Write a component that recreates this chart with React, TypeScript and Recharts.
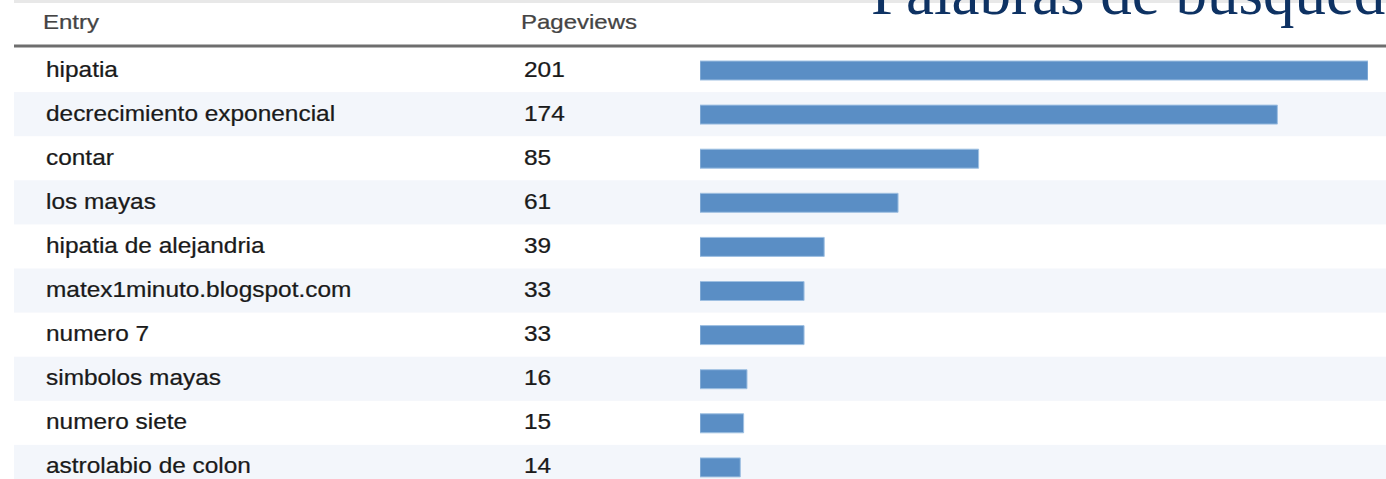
import React from 'react';
import { BarChart, Bar, XAxis, YAxis, ReferenceArea } from 'recharts';

const entries = [
  'hipatia',
  'decrecimiento exponencial',
  'contar',
  'los mayas',
  'hipatia de alejandria',
  'matex1minuto.blogspot.com',
  'numero 7',
  'simbolos mayas',
  'numero siete',
  'astrolabio de colon',
];
const pageviews = [201, 174, 85, 61, 39, 33, 33, 16, 15, 14];
const columnHeaders = ['Entry', 'Pageviews'];
const titleText = 'Palabras de búsqueda';
const shadedRows = entries.filter((_, i) => i % 2 === 1);

const data = entries.map((entry, i) => ({ entry, views: pageviews[i] }));

const FONT = '"Liberation Sans", Arial, Helvetica, sans-serif';

const StretchText = ({ x, y, children, fill = '#1a1a1a', size = 22, stretch = 1.11 }: any) => (
  <text
    transform={`translate(${x},${y}) scale(${stretch},1)`}
    x={0}
    y={0}
    fontFamily={FONT}
    fontSize={size}
    fill={fill}
    stroke={fill}
    strokeWidth={0.25}
  >
    {children}
  </text>
);

const RowTick = (props: any) => {
  const { y, payload } = props;
  const idx = entries.indexOf(payload.value);
  return (
    <g>
      <StretchText x={46} y={y + 6.5}>{payload.value}</StretchText>
      <StretchText x={524} y={y + 6.5}>{String(pageviews[idx])}</StretchText>
    </g>
  );
};

const RowShade = (props: any) => (
  <rect x={14} y={props.y} width={1372} height={props.height} fill="#f3f6fb" />
);

export default function App() {
  return (
    <div
      style={{
        position: 'fixed',
        left: 0,
        top: 0,
        width: 1386,
        height: 479,
        overflow: 'hidden',
        background: '#ffffff',
      }}
    >
      <BarChart
        width={1386}
        height={489}
        layout="vertical"
        data={data}
        margin={{ top: 48, right: 18, left: 0, bottom: 0 }}
      >
        <line x1={14} x2={1386} y1={1.5} y2={1.5} stroke="#e8e8e8" strokeWidth={3} />
        <text
          x={871}
          y={14}
          fontFamily='"Liberation Serif", "Times New Roman", serif'
          fontSize={63}
          fill="#0e3263"
        >
          {titleText}
        </text>
        <StretchText x={43} y={29} fill="#444444" size={20} stretch={1.2}>{columnHeaders[0]}</StretchText>
        <StretchText x={521} y={29} fill="#444444" size={20} stretch={1.2}>{columnHeaders[1]}</StretchText>
        <line x1={14} x2={1386} y1={46} y2={46} stroke="#6e6e6e" strokeWidth={3} />
        {shadedRows.map((r) => (
          <ReferenceArea
            key={r}
            y1={r}
            y2={r}
            ifOverflow="visible"
            shape={RowShade}
          />
        ))}
        <XAxis type="number" domain={[2, 201]} hide allowDataOverflow />
        <YAxis
          type="category"
          dataKey="entry"
          width={700}
          axisLine={false}
          tickLine={false}
          interval={0}
          tick={RowTick}
        />
        <Bar
          dataKey="views"
          barSize={19}
          fill="#5a8ec5"
          stroke="#9fc0e2"
          strokeWidth={1}
          isAnimationActive={false}
        />
      </BarChart>
    </div>
  );
}
